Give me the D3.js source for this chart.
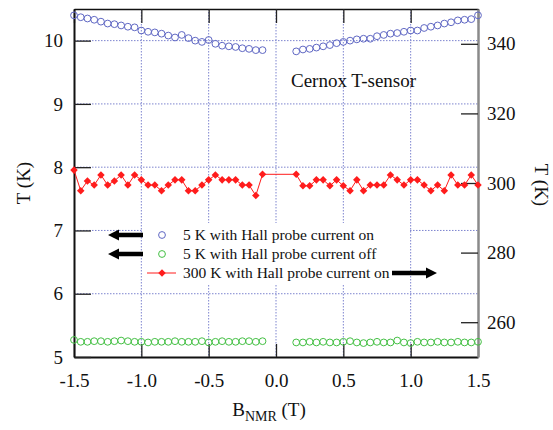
<!DOCTYPE html>
<html>
<head>
<meta charset="utf-8">
<script src="https://cdn.jsdelivr.net/npm/d3@7"></script>
<style>
  body { margin: 0; background: #fff; }
  svg { display: block; }
  svg text { font-family: "Liberation Serif", "Times New Roman", Times, "DejaVu Serif", serif !important; }
</style>
</head>
<body>
<svg id="chart" width="553" height="430"></svg>
<script>
// Magnetic field values (T) for the two sweep branches
const fieldNeg = [-1.50,-1.45,-1.40,-1.35,-1.30,-1.25,-1.20,-1.15,-1.10,-1.05,-1.00,-0.95,-0.90,-0.85,-0.80,-0.75,-0.70,-0.65,-0.60,-0.55,-0.50,-0.45,-0.40,-0.35,-0.30,-0.25,-0.20,-0.15,-0.10];
const fieldPos = [0.15,0.20,0.25,0.30,0.35,0.40,0.45,0.50,0.55,0.60,0.65,0.70,0.75,0.80,0.85,0.90,0.95,1.00,1.05,1.10,1.15,1.20,1.25,1.30,1.35,1.40,1.45,1.50];

// 5 K, Hall probe current on (left axis, K)
const hallOnNeg = [10.40,10.37,10.35,10.33,10.30,10.27,10.26,10.24,10.22,10.21,10.16,10.14,10.13,10.11,10.08,10.05,10.09,10.04,10.00,9.98,10.01,9.95,9.92,9.91,9.90,9.88,9.87,9.85,9.85];
const hallOnPos = [9.83,9.86,9.87,9.89,9.91,9.93,9.96,9.98,10.00,10.02,10.03,10.03,10.07,10.09,10.11,10.12,10.14,10.16,10.16,10.20,10.22,10.24,10.27,10.29,10.32,10.33,10.34,10.40];

// 5 K, Hall probe current off (left axis, K)
const hallOffNeg = [5.27,5.24,5.24,5.25,5.25,5.24,5.25,5.26,5.25,5.24,5.24,5.23,5.24,5.24,5.24,5.25,5.24,5.24,5.24,5.25,5.23,5.24,5.25,5.24,5.24,5.25,5.25,5.24,5.25];
const hallOffPos = [5.23,5.23,5.24,5.23,5.24,5.23,5.23,5.24,5.25,5.23,5.22,5.23,5.24,5.23,5.23,5.26,5.23,5.22,5.24,5.23,5.23,5.24,5.23,5.23,5.24,5.23,5.23,5.24];

// 300 K, Hall probe current on (right axis, K)
const roomNeg = [303.7,297.8,300.6,299.4,302.3,299.4,300.6,302.3,299.4,302.3,300.9,299.4,299.4,297.8,299.4,300.9,300.9,297.8,297.8,299.4,300.9,302.3,300.9,300.9,300.9,299.4,299.4,296.4,302.5];
const roomPos = [302.5,299.2,299.2,300.9,300.9,299.2,300.9,299.2,297.8,300.9,297.8,299.4,299.4,299.4,302.3,300.9,299.4,300.9,300.9,299.4,297.8,299.4,297.8,302.3,299.4,299.4,302.3,299.4];

// Axis ticks
const xTicks = [-1.5,-1.0,-0.5,0.0,0.5,1.0,1.5];
const leftTicks = [5,6,7,8,9,10];
const rightTicks = [260,280,300,320,340];

const legendLabels = [
  "5 K with Hall probe current on",
  "5 K with Hall probe current off",
  "300 K with Hall probe current on"
];

const colBlue = "#6068c4", colGreen = "#44c044", colRed = "#ff1c1c", colGrid = "#7d84cf";

const svg = d3.select("#chart");
const L = 74, R = 478, T = 9, B = 357;

const x = d3.scaleLinear().domain([-1.5, 1.5]).range([L, R]);
const yL = d3.scaleLinear().domain([5, 10.5]).range([B, T]);
const yR = d3.scaleLinear().domain([250, 350]).range([B, T]);

// dotted grid
const grid = svg.append("g").attr("stroke", colGrid).attr("stroke-width", 1).attr("stroke-dasharray", "1.5,1.5");
grid.selectAll("line.v").data(xTicks.slice(1, -1)).join("line")
  .attr("x1", d => x(d)).attr("x2", d => x(d)).attr("y1", T).attr("y2", B);
grid.selectAll("line.h").data(leftTicks.slice(1)).join("line")
  .attr("x1", L).attr("x2", R).attr("y1", d => yL(d)).attr("y2", d => yL(d));

// Axes with inward ticks
const fmt1 = d => d.toFixed(1);
function styleAxis(g, color, width) {
  g.attr("font-family", null);
  g.select(".domain").attr("stroke", color).attr("stroke-width", width);
  g.selectAll(".tick line").attr("stroke", "#222").attr("stroke-width", 1.3);
  g.selectAll(".tick text").attr("fill", "#111").style("font-size", "19px");
}
const gTop = svg.append("g").attr("transform", `translate(0,${T})`)
  .call(d3.axisTop(x).tickValues(xTicks).tickSize(-14).tickSizeOuter(0).tickFormat(""));
styleAxis(gTop, "#111", 1.5);
const gBottom = svg.append("g").attr("transform", `translate(0,${B})`)
  .call(d3.axisBottom(x).tickValues(xTicks).tickSize(-13).tickSizeOuter(0).tickPadding(17).tickFormat(fmt1));
styleAxis(gBottom, "#111", 2);
const gLeft = svg.append("g").attr("transform", `translate(${L},0)`)
  .call(d3.axisLeft(yL).tickValues(leftTicks).tickSize(-17).tickSizeOuter(0).tickPadding(11).tickFormat(d3.format("d")));
styleAxis(gLeft, "#111", 2);
const gRight = svg.append("g").attr("transform", `translate(${R},0)`)
  .call(d3.axisRight(yR).tickValues(rightTicks).tickSize(-17).tickSizeOuter(0).tickPadding(9).tickFormat(d3.format("d")));
styleAxis(gRight, "#8a8a8a", 2.5);

// Axis titles
svg.append("text").attr("transform", "translate(30,183) rotate(-90)")
  .attr("text-anchor", "middle").style("font-size", "19px").attr("fill", "#111").text("T (K)");
svg.append("text").attr("transform", "translate(535,185) rotate(90)")
  .attr("text-anchor", "middle").style("font-size", "19px").attr("fill", "#111").text("T (K)");
const xt = svg.append("text").attr("x", 269).attr("y", 416).attr("text-anchor", "middle")
  .style("font-size", "19px").attr("fill", "#111");
xt.append("tspan").text("B");
xt.append("tspan").attr("dy", 5).style("font-size", "14px").text("NMR");
xt.append("tspan").attr("dy", -5).text(" (T)");

svg.append("text").attr("x", 291).attr("y", 87).style("font-size", "19px").attr("fill", "#111").text("Cernox T-sensor");

// Series
const zip = (xs, ys) => xs.map((b, i) => ({ b, v: ys[i] }));
const onPts = zip(fieldNeg, hallOnNeg).concat(zip(fieldPos, hallOnPos));
const offPts = zip(fieldNeg, hallOffNeg).concat(zip(fieldPos, hallOffPos));
const roomPts = zip(fieldNeg, roomNeg).concat(zip(fieldPos, roomPos));

svg.append("g").selectAll("circle").data(onPts).join("circle")
  .attr("cx", d => x(d.b)).attr("cy", d => yL(d.v)).attr("r", 3.4)
  .attr("fill", "none").attr("stroke", colBlue).attr("stroke-width", 1);
svg.append("g").selectAll("circle").data(offPts).join("circle")
  .attr("cx", d => x(d.b)).attr("cy", d => yL(d.v)).attr("r", 3.4)
  .attr("fill", "none").attr("stroke", colGreen).attr("stroke-width", 1);

svg.append("path").datum(roomPts)
  .attr("d", d3.line().x(d => x(d.b)).y(d => yR(d.v)))
  .attr("fill", "none").attr("stroke", colRed).attr("stroke-width", 1);
const diamond = d3.symbol().type(d3.symbolDiamond2).size(36);
svg.append("g").selectAll("path").data(roomPts).join("path")
  .attr("transform", d => `translate(${x(d.b)},${yR(d.v)})`)
  .attr("d", diamond).attr("fill", colRed);

// Legend
const lg = svg.append("g");
lg.append("rect").attr("x", 143).attr("y", 223).attr("width", 267).attr("height", 62).attr("fill", "#fff");
const rows = [235, 254, 273];
lg.append("circle").attr("cx", 162).attr("cy", rows[0]).attr("r", 3.4).attr("fill", "none").attr("stroke", colBlue);
lg.append("circle").attr("cx", 162).attr("cy", rows[1]).attr("r", 3.4).attr("fill", "none").attr("stroke", colGreen);
lg.append("line").attr("x1", 147).attr("x2", 176).attr("y1", rows[2]).attr("y2", rows[2]).attr("stroke", colRed);
lg.append("path").attr("transform", `translate(162,${rows[2]})`).attr("d", diamond).attr("fill", colRed);
lg.selectAll("text").data(legendLabels).join("text")
  .attr("x", 183).attr("y", (d, i) => rows[i]).attr("dy", "0.35em")
  .style("font-size", "15.5px").attr("fill", "#111").text(d => d);

// Axis-direction arrows
function arrow(x0, x1, y) {
  const dir = Math.sign(x1 - x0), hl = 11, hw = 5.5, sw = 2.3;
  const xb = x1 - dir * hl;
  return `M${x0},${y - sw}L${xb},${y - sw}L${xb},${y - hw}L${x1},${y}L${xb},${y + hw}L${xb},${y + sw}L${x0},${y + sw}Z`;
}
lg.append("path").attr("d", arrow(143, 108, rows[0])).attr("fill", "#000");
lg.append("path").attr("d", arrow(143, 108, rows[1])).attr("fill", "#000");
lg.append("path").attr("d", arrow(392, 437, rows[2])).attr("fill", "#000");
</script>
</body>
</html>
